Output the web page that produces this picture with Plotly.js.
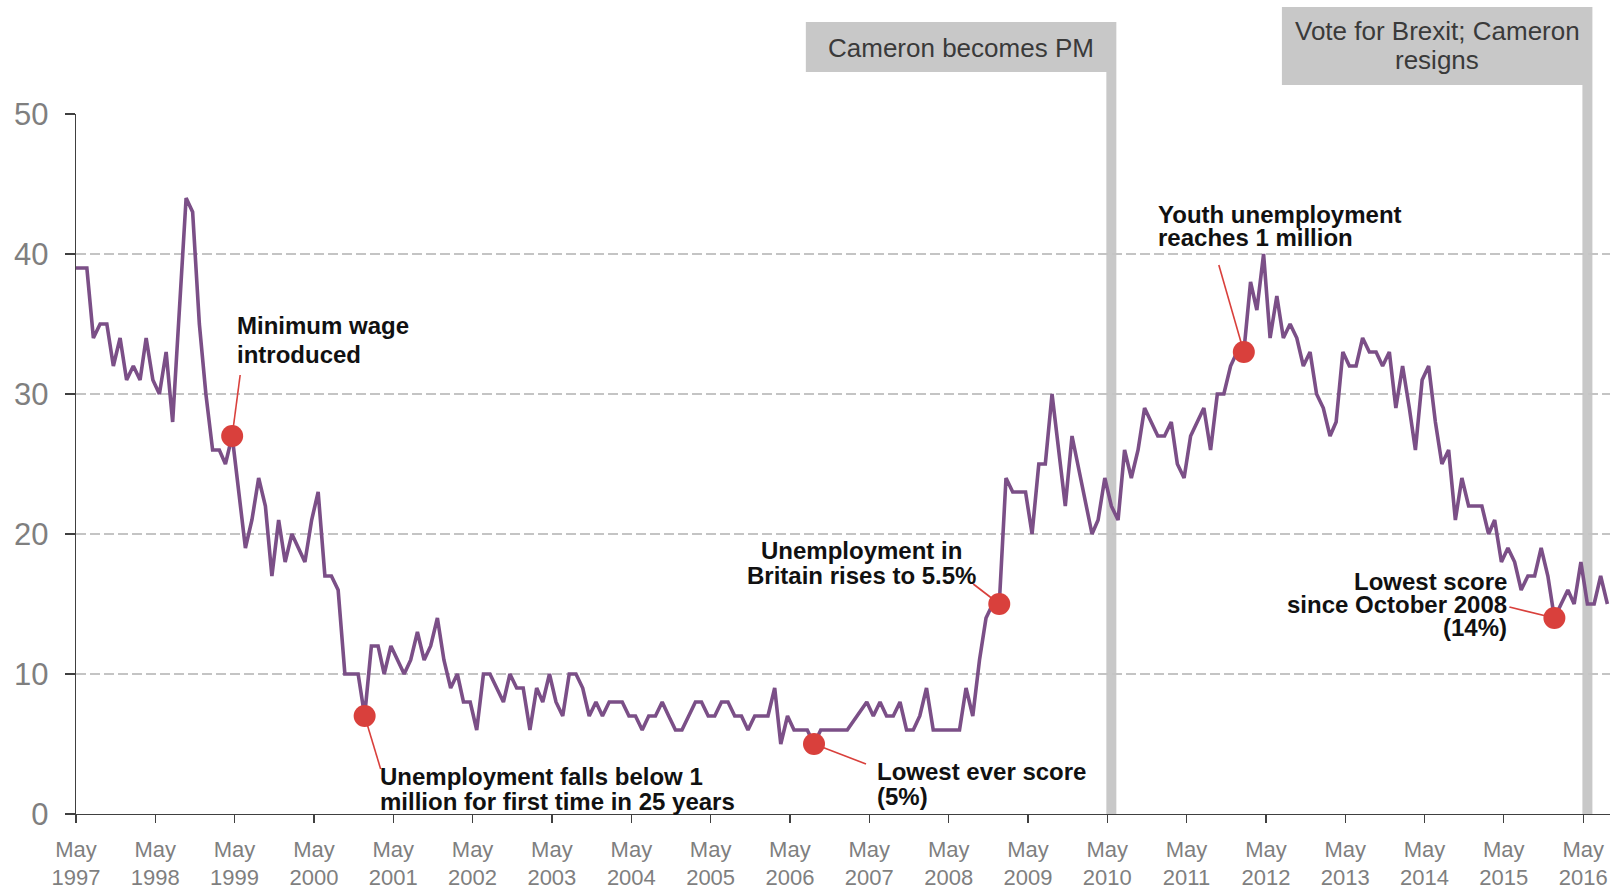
<!DOCTYPE html>
<html>
<head>
<meta charset="utf-8">
<script src="https://cdn.plot.ly/plotly-3.0.1.min.js"></script>
<style>
html,body{margin:0;padding:0;background:#ffffff;}
#chart{width:1619px;height:889px;}
</style>
</head>
<body>
<div id="chart"></div>
<script>
// ---------------- DATA ----------------
// Share naming unemployment as an important issue (%), monthly from May 1997 (null = no reading)
const firstMonth = '1997-05';
const unemploymentPct = [
  39,39,34,35,35,32,34,31,32,31,34,31,          // May 1997 - Apr 1998
  30,33,28,null,44,43,35,30,26,26,25,27,        // May 1998 - Apr 1999
  null,19,21,24,22,17,21,18,20,19,18,21,        // May 1999 - Apr 2000
  23,17,17,16,10,10,10,7,12,12,10,12,           // May 2000 - Apr 2001
  11,10,11,13,11,12,14,11,9,10,8,8,             // May 2001 - Apr 2002
  6,10,10,9,8,10,9,9,6,9,8,10,                  // May 2002 - Apr 2003
  8,7,10,10,9,7,8,7,8,8,8,7,                    // May 2003 - Apr 2004
  7,6,7,7,8,7,6,6,7,8,8,7,                      // May 2004 - Apr 2005
  7,8,8,7,7,6,7,7,7,9,5,7,                      // May 2005 - Apr 2006
  6,6,6,5,6,6,6,6,6,null,null,8,                // May 2006 - Apr 2007
  7,8,7,7,8,6,6,7,9,6,6,6,                      // May 2007 - Apr 2008
  6,6,9,7,11,14,15,15,24,23,23,23,              // May 2008 - Apr 2009
  20,25,25,30,null,22,27,null,null,20,21,24,    // May 2009 - Apr 2010
  22,21,26,24,26,29,28,27,27,28,25,24,          // May 2010 - Apr 2011
  27,28,29,26,30,30,32,33,33,38,36,40,          // May 2011 - Apr 2012
  34,37,34,35,34,32,33,30,29,27,28,33,          // May 2012 - Apr 2013
  32,32,34,33,33,32,33,29,32,29,26,31,          // May 2013 - Apr 2014
  32,28,25,26,21,24,22,22,22,20,21,18,          // May 2014 - Apr 2015
  19,18,16,17,17,19,17,14,15,16,15,18,          // May 2015 - Apr 2016
  15,15,17,15                                   // May 2016 - Aug 2016
];
const tickYears = [1997,1998,1999,2000,2001,2002,2003,2004,2005,2006,2007,2008,2009,2010,2011,2012,2013,2014,2015,2016];
const tickLabels = tickYears.map(y => 'May<br>' + y);
const yTicks = [0,10,20,30,40,50];

const eventMonths = ['2010-05','2016-05'];
const eventLabels = [['Cameron becomes PM'], ['Vote for Brexit; Cameron','resigns']];

const calloutMonths = ['1999-04','2000-12','2006-08','2008-12','2012-01','2015-12'];
const calloutTexts = [
  ['Minimum wage','introduced'],
  ['Unemployment falls below 1','million for first time in 25 years'],
  ['Lowest ever score','(5%)'],
  ['Unemployment in','Britain rises to 5.5%'],
  ['Youth unemployment','reaches 1 million'],
  ['Lowest score','since October 2008','(14%)']
];

// ---------------- HELPERS ----------------
const FONT = 'Liberation Sans, Arial, sans-serif';
const surveyDay = 20;
function monthIndex(ym){
  const [y,m] = ym.split('-').map(Number);
  const [y0,m0] = firstMonth.split('-').map(Number);
  return (y - y0) * 12 + (m - m0);
}
function monthDate(i, day){
  const [y0,m0] = firstMonth.split('-').map(Number);
  const t = y0 * 12 + (m0 - 1) + i;
  const y = Math.floor(t / 12), mo = t % 12 + 1;
  return y + '-' + String(mo).padStart(2,'0') + '-' + String(day).padStart(2,'0');
}
const xDates = unemploymentPct.map((v,i) => monthDate(i, i === 0 ? 1 : surveyDay));
const tickVals = tickYears.map(y => y + '-05-01');

// pixel layout of plot area
const plotLeft = 76, plotRight = 1610, plotTop = 114, plotBottom = 814;
const W = 1619, H = 889;
const py = px => (plotBottom - px) / (plotBottom - plotTop);

// ---------------- TRACES ----------------
const lineTrace = {
  x: xDates, y: unemploymentPct, type: 'scatter', mode: 'lines',
  connectgaps: true,
  line: {color: '#7b4f87', width: 3.6},
  hoverinfo: 'skip', showlegend: false
};
const calloutIdx = calloutMonths.map(monthIndex);
const dotTrace = {
  x: calloutIdx.map(i => xDates[i]), y: calloutIdx.map(i => unemploymentPct[i]),
  type: 'scatter', mode: 'markers',
  marker: {color: '#d9403c', size: 22},
  hoverinfo: 'skip', showlegend: false
};

// ---------------- DECORATIONS ----------------
const shapes = [];
const annotations = [];

// event bars + boxes
const eventBoxes = [
  {top: 22, bottom: 72, lineY: [48]},
  {top: 7, bottom: 85, lineY: [31, 60]}
];
eventMonths.forEach((ym, k) => {
  const xd = xDates[monthIndex(ym)];
  const b = eventBoxes[k];
  shapes.push({type:'line', xref:'x', yref:'paper', x0:xd, x1:xd, y0:0, y1:py(b.bottom),
    line:{color:'#c8c8c8', width:10}, layer:'between'});
  shapes.push({type:'rect', xref:'x', xsizemode:'pixel', xanchor:xd, x0:-305.5, x1:5,
    yref:'paper', y0:py(b.bottom), y1:py(b.top), fillcolor:'#c8c8c8', line:{width:0}, layer:'above'});
  eventLabels[k].forEach((txt, j) => {
    annotations.push({xref:'x', x:xd, xshift:-150.25, yref:'paper', y:py(b.lineY[j]),
      text:txt, showarrow:false, xanchor:'center', yanchor:'middle',
      font:{family:FONT, size:26, color:'#3a3a3a'}});
  });
});

// callouts
const calloutPlacement = [
  {align:'left',   dx:4,    dy:[111, 82],      line:[8, 61]},
  {align:'left',   dx:14,   dy:[-60, -85],     line:[16, -53]},
  {align:'left',   dx:62,   dy:[-27, -52],     line:[52, -20]},
  {align:'center', dx:-138, dy:[54, 29],       line:[-26, 20]},
  {align:'left',   dx:-87,  dy:[138, 115],     line:[-25, 87]},
  {align:'right',  dx:-46,  dy:[37, 14, -9],   line:[-45, 11]}
];
calloutIdx.forEach((i, k) => {
  const xd = xDates[i], yv = unemploymentPct[i];
  const p = calloutPlacement[k];
  shapes.push({type:'line', xref:'x', yref:'y', xsizemode:'pixel', ysizemode:'pixel',
    xanchor:xd, yanchor:yv, x0:0, y0:0, x1:p.line[0], y1:p.line[1],
    line:{color:'#d9403c', width:1.6}, layer:'between'});
  calloutTexts[k].forEach((txt, j) => {
    annotations.push({xref:'x', yref:'y', x:xd, y:yv, xshift:p.dx, yshift:p.dy[j],
      text:'<b>' + txt + '</b>', showarrow:false, xanchor:p.align, yanchor:'middle',
      align:p.align, borderpad:0,
      font:{family:FONT, size:24, color:'#111111'}});
  });
});

// ---------------- LAYOUT ----------------
const layout = {
  width: W, height: H,
  margin: {l: plotLeft, r: W - plotRight, t: plotTop, b: H - plotBottom, pad: 0},
  paper_bgcolor: '#ffffff', plot_bgcolor: '#ffffff',
  font: {family: FONT},
  showlegend: false,
  xaxis: {
    type: 'date', range: ['1997-05-01', '2016-09-01'],
    tickmode: 'array', tickvals: tickVals, ticktext: tickLabels,
    ticks: 'outside', ticklen: 8, tickwidth: 1.3, tickcolor: '#404040',
    showline: true, linecolor: '#404040', linewidth: 1.3,
    showgrid: false, zeroline: false,
    tickfont: {family: FONT, size: 22, color: '#7f7f7f'},
    ticklabelstandoff: 7
  },
  yaxis: {
    range: [0, 50], tickmode: 'array', tickvals: yTicks,
    ticks: 'outside', ticklen: 10, tickwidth: 1.3, tickcolor: '#404040',
    showline: true, linecolor: '#404040', linewidth: 1.3,
    showgrid: true, gridcolor: '#c4c4c4', gridwidth: 1.3, griddash: '10px,4px',
    zeroline: false,
    tickfont: {family: FONT, size: 31, color: '#7f7f7f'},
    ticklabelstandoff: 10
  },
  shapes: shapes,
  annotations: annotations
};

Plotly.newPlot('chart', [lineTrace, dotTrace], layout, {displayModeBar: false, staticPlot: true});
</script>
</body>
</html>
